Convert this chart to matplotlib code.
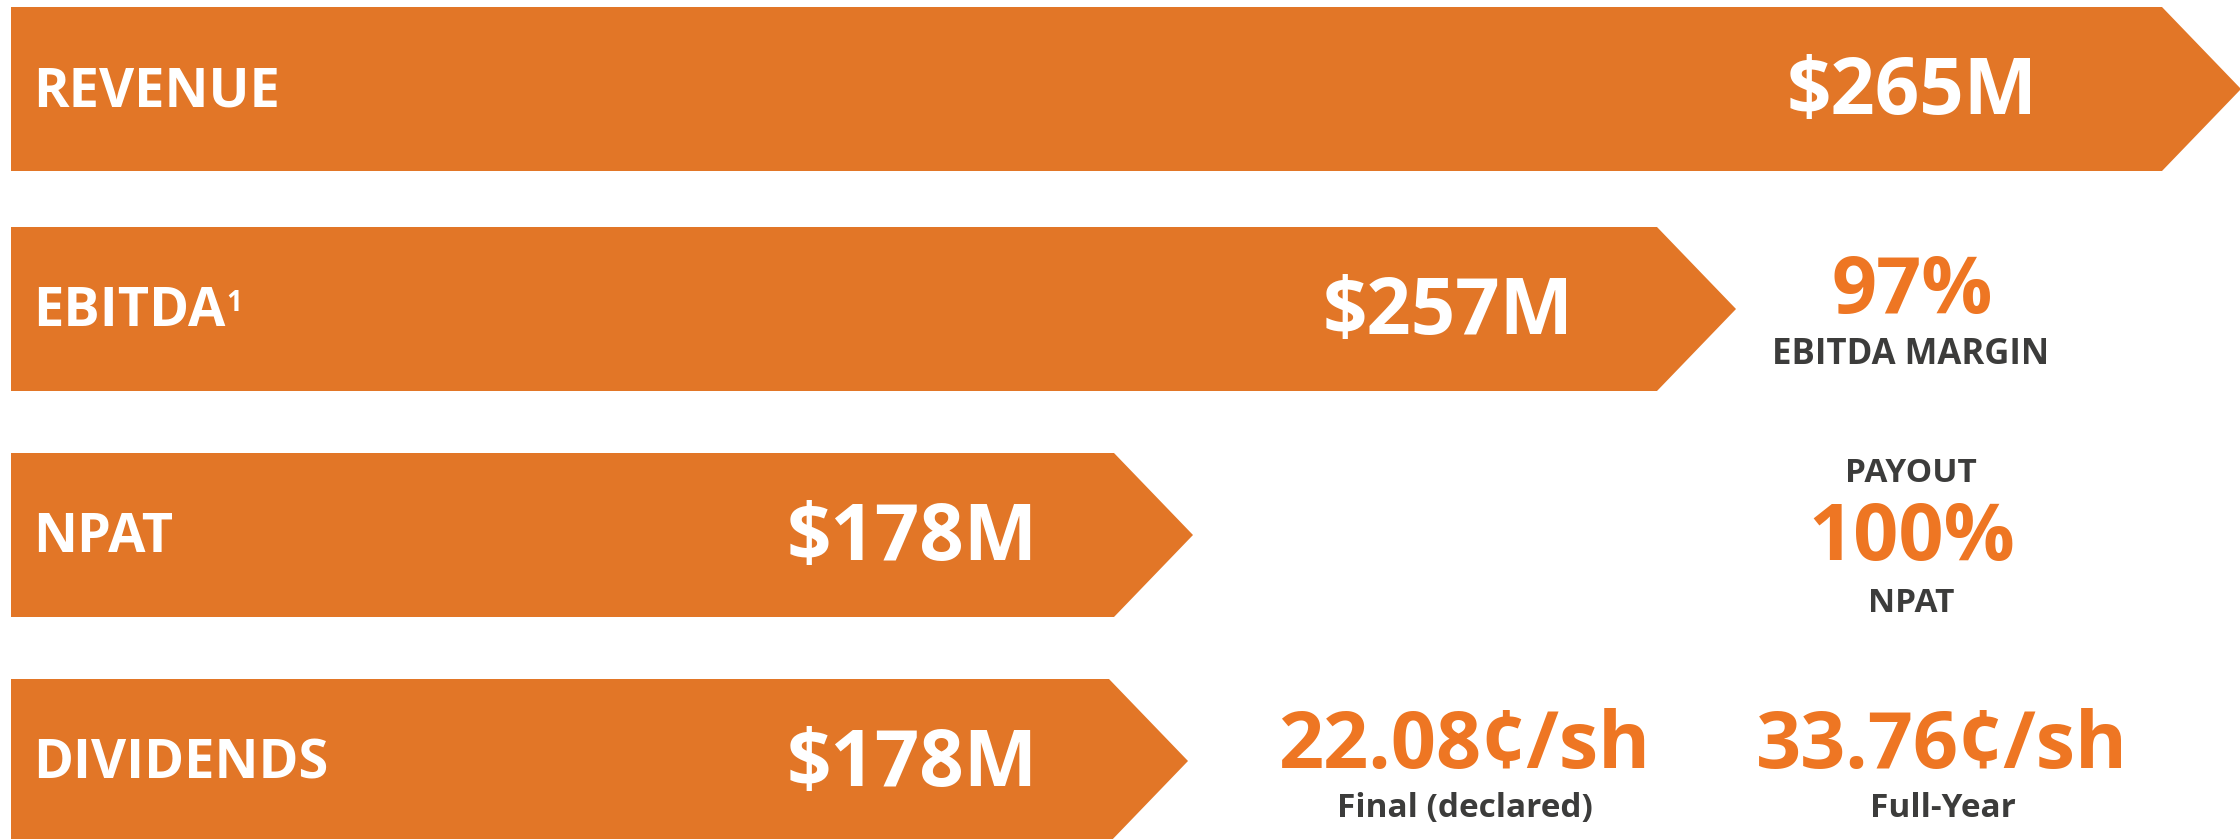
import matplotlib
matplotlib.use("Agg")
import matplotlib.pyplot as plt
from matplotlib.patches import Polygon

plt.rcParams['font.family'] = ['Open Sans', 'DejaVu Sans']

# data
categories = ["REVENUE", "EBITDA", "NPAT", "DIVIDENDS"]
amounts = ["$265M", "$257M", "$178M", "$178M"]
bar_end = [2162, 1657, 1114, 1109]   # where the flat part of each arrow stops (px)
margin_pct = "97%"
payout_pct = "100%"
final_div = "22.08¢/sh"
full_year_div = "33.76¢/sh"

BAR = "#E27627"
ORANGE = "#EE7623"
DARK = "#3C3C3B"
W, H = 2240, 839

fig = plt.figure(figsize=(W / 100, H / 100), dpi=100)
ax = fig.add_axes([0, 0, 1, 1])
ax.set_xlim(0, W)
ax.set_ylim(H, 0)
ax.axis("off")

left = 11
tops = [7, 227, 453, 679]
bh = 164
depth = 79
amount_x = [1912, 1448, 912, 912]

def cap_text(x, yc, s, size_pt, color, ha="center", **kw):
    # place text so the capital letters are centred on yc (pixel units)
    cap = size_pt / 0.72 * 0.714
    return ax.text(x, yc + cap / 2, s, fontsize=size_pt, color=color, ha=ha,
                   va="baseline", fontweight="bold", **kw)

for i, cat in enumerate(categories):
    top = tops[i]
    mid = top + bh / 2
    pts = [(left, top), (bar_end[i], top), (bar_end[i] + depth, mid),
           (bar_end[i], top + bh), (left, top + bh)]
    ax.add_patch(Polygon(pts, closed=True, facecolor=BAR, edgecolor="none"))
    t = cap_text(33, mid - 2, cat, 39, "white", ha="left")
    if cat == "EBITDA":
        fig.canvas.draw()
        bb = t.get_window_extent()
        ax.text(bb.x1 + 1, 289, "1", fontsize=20, color="white", ha="left",
                va="top", fontweight="bold")
    cap_text(amount_x[i], mid - 3, amounts[i], 56, "white")

# right-hand annotations
cap_text(1912, 285, margin_pct, 57, ORANGE)
cap_text(1911, 352, "EBITDA MARGIN", 25, DARK)

cap_text(1911, 470, "PAYOUT", 24, DARK)
cap_text(1912, 532, payout_pct, 57, ORANGE)
cap_text(1911, 600, "NPAT", 24, DARK)

cap_text(1464, 740, final_div, 57, ORANGE)
cap_text(1465, 805, "Final (declared)", 24, DARK)
cap_text(1942, 740, full_year_div, 57, ORANGE)
cap_text(1943, 805, "Full-Year", 24, DARK)

fig.savefig("out.png", dpi=100, facecolor="white")
